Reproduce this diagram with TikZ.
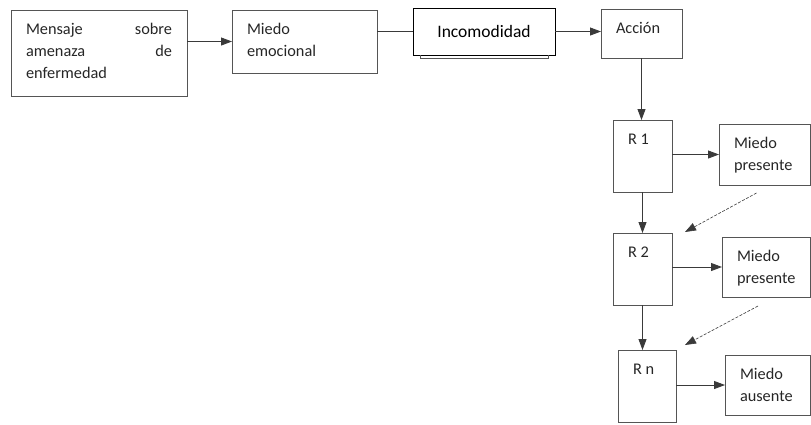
\documentclass[tikz,border=0pt]{standalone}
\usepackage{fontspec}
\setmainfont{Carlito}
\usetikzlibrary{arrows.meta, positioning, calc}
\definecolor{lineGray}{HTML}{3A3A3A}
\definecolor{boxGray}{HTML}{555555}
\definecolor{textGray}{HTML}{262626}
\newcommand{\cell}[3]{\parbox[t][\dimexpr#2pt-20pt\relax][t]{\dimexpr#1pt-30pt\relax}{\raggedright\rule{0pt}{14pt}#3}}

\begin{document}
\begin{tikzpicture}[x=1pt, y=-1pt,
    box/.style={draw=boxGray, line width=0.9pt, anchor=north west, inner xsep=15pt,
                inner ysep=10pt, outer sep=0pt, text=textGray,
                font=\fontsize{16.3}{22}\selectfont},
    incbox/.style={draw=black, line width=0.9pt, anchor=north west, inner sep=0pt,
                   outer sep=0pt, minimum width=142pt, minimum height=47pt,
                   font=\fontsize{17.5}{21}\selectfont},
    arr/.style={-{Triangle[length=11pt, width=8pt]}, line width=0.9pt, lineGray},
    dsh/.style={-{Triangle[length=11pt, width=8pt]}, line width=0.6pt, lineGray,
                dash pattern=on 3pt off 1.5pt}
]
  \useasboundingbox (0,0) rectangle (811,424);

  \node[box] (msg) at (11,10) {\cell{176}{86}{Mensaje\hfill sobre\\ amenaza\hfill de\\ enfermedad}};
  \node[box] (emo) at (232,10) {\cell{145}{63}{Miedo\\ emocional}};
  \node[incbox] (inc) at (413,8) {Incomodidad};
  \node[box] (acc) at (601,9) {\cell{81}{49}{Acción}};

  \node[box] (r1) at (613,120) {\cell{59}{72}{R 1}};
  \node[box] (mp1) at (719,124) {\cell{91}{61}{Miedo\\ presente}};
  \node[box] (r2) at (613,233) {\cell{59}{72}{R 2}};
  \node[box] (mp2) at (722,237) {\cell{88}{60}{Miedo\\ presente}};
  \node[box] (rn) at (618,350) {\cell{58}{72}{R n}};
  \node[box] (ma) at (725,355) {\cell{85}{60}{Miedo\\ ausente}};

  \draw[line width=0.9pt, boxGray] ([xshift=7pt]inc.south west) -- ++(0,3) -| ([xshift=-7pt]inc.south east);

  \draw[arr] (emo.west -| msg.east) -- (emo.west);
  \draw[line width=0.9pt, lineGray] (inc.west -| emo.east) -- (inc.west);
  \draw[arr] (inc.east) -- (inc.east -| acc.west);
  \draw[arr] (acc.south) -- (acc.south |- r1.north);

  \draw[arr] (r1.east |- mp1.west) -- (mp1.west);
  \draw[arr] (r1.south) -- (r2.north);
  \draw[dsh] ([shift={(-8,8)}]mp1.south) -- ([shift={(13,-1)}]r2.north east);

  \draw[arr] (r2.east |- mp2.west) -- (mp2.west);
  \draw[arr] (r2.south) -- (r2.south |- rn.north);
  \draw[dsh] ([shift={(-8,9)}]mp2.south) -- ([shift={(9,-5)}]rn.north east);

  \draw[arr] (rn.east |- ma.west) -- (ma.west);
\end{tikzpicture}
\end{document}
